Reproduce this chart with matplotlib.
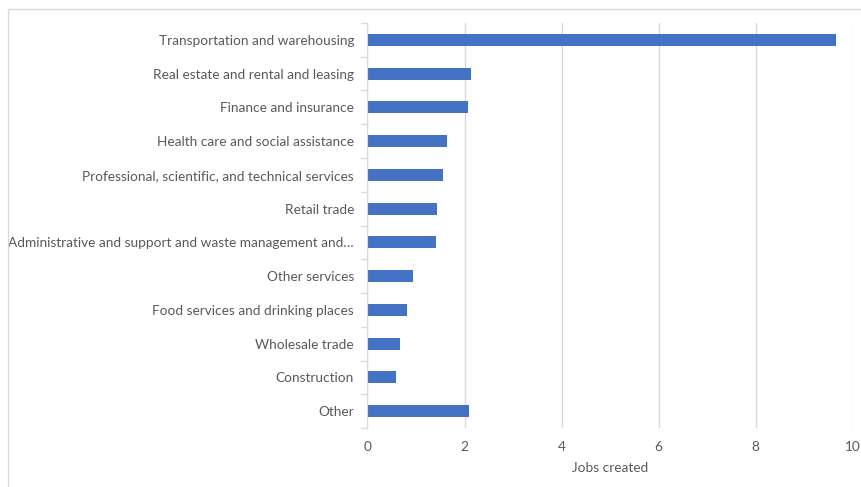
import matplotlib.pyplot as plt
from matplotlib.patches import Rectangle

# industries, top to bottom
industries = [
    "Transportation and warehousing",
    "Real estate and rental and leasing",
    "Finance and insurance",
    "Health care and social assistance",
    "Professional, scientific, and technical services",
    "Retail trade",
    "Administrative and support and waste management and\u2026",
    "Other services",
    "Food services and drinking places",
    "Wholesale trade",
    "Construction",
    "Other",
]
jobs = [9.66, 2.13, 2.07, 1.64, 1.55, 1.43, 1.41, 0.94, 0.81, 0.67, 0.59, 2.09]
xticks = [0, 2, 4, 6, 8, 10]

plt.rcParams['font.family'] = ['Lato', 'DejaVu Sans']
txt = '#595959'
grid = '#d9d9d9'
fs = 9.85

fig = plt.figure(figsize=(8.61, 4.87), dpi=100)
ax = fig.add_axes([0.4268, 0.1211, 0.5636, 0.8317])

pos = list(range(len(industries)))
ax.barh(pos, jobs, height=0.35, color='#4472c4', zorder=3)
ax.set_ylim(len(industries) - 0.5, -0.5)
ax.set_xlim(0, 10)

ax.set_xticks(xticks)
ax.set_xticklabels([str(t) for t in xticks], color=txt, fontsize=fs)
ax.tick_params(axis='x', length=0, pad=9.5)
ax.xaxis.grid(True, color=grid, linewidth=1, zorder=0)

ax.set_yticks(pos)
ax.set_yticklabels(industries, color=txt, fontsize=fs)
ax.set_yticks([p + 0.5 for p in [-1] + pos], minor=True)
ax.tick_params(axis='y', which='major', length=0, pad=9.7)
ax.tick_params(axis='y', which='minor', length=4, color=grid, width=1)

for s in ['top', 'right', 'bottom']:
    ax.spines[s].set_visible(False)
ax.spines['left'].set_color(grid)
ax.spines['left'].set_zorder(4)

ax.set_xlabel('Jobs created', color=txt, fontsize=fs, labelpad=6)

# chart frame
fig.patches.append(Rectangle((8 / 861, -0.1), 1.2, 1 - 9 / 487 + 0.1,
                             transform=fig.transFigure, fill=False,
                             edgecolor=grid, linewidth=1))

fig.savefig('out.png', dpi=100)
